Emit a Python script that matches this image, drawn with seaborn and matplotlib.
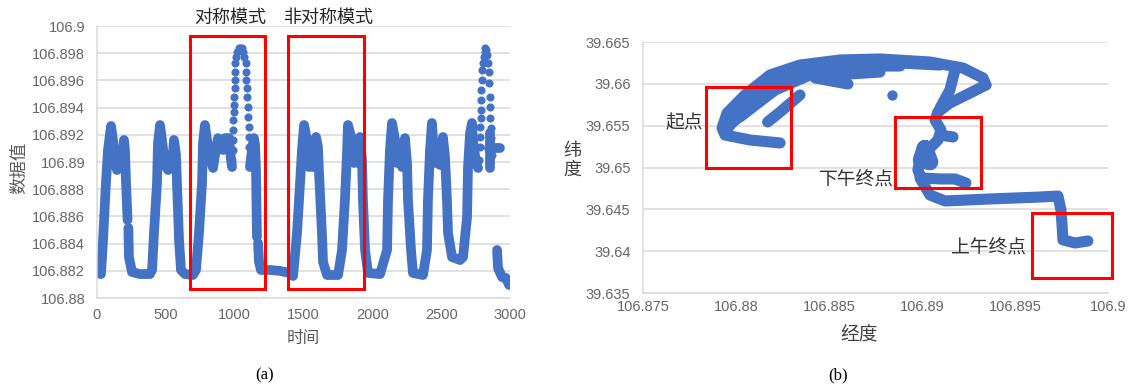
import matplotlib
matplotlib.use("Agg")
import matplotlib.pyplot as plt
import pandas as pd
import seaborn as sns
from matplotlib.patches import Rectangle
from matplotlib.ticker import FuncFormatter, MultipleLocator

# ---------------- (a) time series: continuous pieces of the trace ----------------
piece0_t = [0, 29, 44, 65, 80, 102, 116, 131, 145, 160, 174, 196, 203, 211, 222]
piece0_v = [106.88184, 106.88176, 106.88426, 106.88846, 106.89088, 106.89265, 106.89162,
            106.89015, 106.88941, 106.89015, 106.88956, 106.89162, 106.89088, 106.88846,
            106.88574]

piece1_t = [228, 232, 254, 312, 385, 400, 414, 436, 443, 458, 472, 494, 516, 530, 545, 559,
            574, 581, 596, 610, 639, 697, 719, 741, 763, 770, 784, 799, 821, 843, 857, 879,
            901, 915, 930, 959, 974, 981]
piece1_v = [106.88515, 106.88301, 106.88191, 106.88176, 106.88176, 106.88206, 106.88478,
            106.88846, 106.8914, 106.89272, 106.89162, 106.88978, 106.88941, 106.89015,
            106.88956, 106.89162, 106.89051, 106.88846, 106.88426, 106.88206, 106.88176,
            106.88169, 106.88206, 106.88478, 106.88846, 106.8914, 106.89272, 106.89162,
            106.89029, 106.88956, 106.89051, 106.89176, 106.89125, 106.89088, 106.89176,
            106.89176, 106.89015, 106.88963]

piece2_t = [1111, 1126, 1140, 1148, 1155, 1162]
piece2_v = [106.88963, 106.89088, 106.89176, 106.89125, 106.88941, 106.88449]

piece3_t = [1170, 1177, 1191, 1257, 1329, 1402, 1424, 1453, 1475, 1489, 1504,
            1525, 1540, 1562, 1569, 1591, 1605, 1613, 1634, 1642, 1671, 1751, 1780, 1801, 1816, 1823,
            1852, 1867, 1889, 1896, 1910, 1925, 1932, 1947, 1969, 2056, 2107, 2114, 2128, 2143,
            2165, 2179, 2201, 2216, 2237, 2252, 2259, 2281, 2295, 2368, 2397, 2404, 2419, 2433,
            2441, 2455, 2477, 2492, 2513, 2528, 2542, 2550, 2579, 2637, 2659, 2688, 2695, 2710, 2724,
            2731, 2753, 2768]
piece3_v = [106.88404, 106.88265, 106.88206, 106.88206, 106.88199, 106.88184, 106.88162,
            106.88478, 106.88846, 106.89088, 106.89272,
            106.89162, 106.88963, 106.89015, 106.88963, 106.89184, 106.8911, 106.88919,
            106.88478, 106.88265, 106.88169, 106.88169, 106.88353, 106.88721, 106.89066, 106.89272,
            106.89162, 106.88993, 106.89037, 106.88993, 106.89184, 106.89015, 106.88721,
            106.88353, 106.88184, 106.88176, 106.88353, 106.88721, 106.89088, 106.89287,
            106.89162, 106.88993, 106.89015, 106.88963, 106.89176, 106.88993, 106.88721,
            106.88353, 106.88184, 106.88169, 106.88353, 106.88721, 106.89088, 106.89287,
            106.89162, 106.88993, 106.89015, 106.88978, 106.89184, 106.89037, 106.88721,
            106.88478, 106.88301, 106.88279, 106.88301, 106.88596, 106.88963, 106.89213, 106.89287,
            106.89162, 106.88993, 106.88956]

piece4_t = [2858, 2858]
piece4_v = [106.89213, 106.88956]

piece5_t = [2846, 2927]
piece5_v = [106.89103, 106.89103]

piece6_t = [2906, 2913, 2942, 2971, 2993]
piece6_v = [106.88353, 106.8822, 106.88154, 106.88147, 106.88096]

# sparse samples on the two tall excursions
spike1_t = [983, 985, 987, 989, 991, 993, 995, 997, 999, 1001, 1003, 1006, 1012, 1020, 1028,
            1036, 1044, 1052, 1060, 1068, 1080, 1083, 1086, 1089, 1092, 1095, 1098, 1101, 1104,
            1107, 1110, 1113]
spike1_v = [106.89015, 106.89088, 106.89162, 106.89235, 106.89309, 106.89368, 106.89419,
            106.89478, 106.89544, 106.89603, 106.89662, 106.89728, 106.89772, 106.89809,
            106.89838, 106.89838, 106.89824, 106.89838, 106.89809, 106.89772, 106.89728,
            106.89662, 106.89603, 106.89544, 106.89478, 106.89404, 106.89331, 106.89257,
            106.89184, 106.8911, 106.89037, 106.88978]

spike2_t = [2778, 2780, 2782, 2784, 2786, 2788, 2790, 2792, 2795, 2798, 2802, 2808, 2815,
            2822, 2829, 2836, 2843, 2846, 2849, 2852, 2855, 2858, 2861, 2864, 2867, 2870]
spike2_v = [106.89015, 106.8911, 106.89184, 106.89257, 106.89324, 106.89382, 106.89456,
            106.89529, 106.89603, 106.89676, 106.89728, 106.89772, 106.89809, 106.89838,
            106.89824, 106.89787, 106.89728, 106.89662, 106.89581, 106.89478, 106.89404,
            106.89324, 106.8925, 106.89176, 106.8911, 106.89051]

mode_names = ["对称模式", "非对称模式"]
mode_t_ranges = [(675, 1220), (1387, 1939)]
mode_v_range = (106.88066, 106.89926)

# ---------------- (b) trajectory strokes (longitude, latitude) ----------------
outer_lon = [106.88237, 106.88075, 106.87941, 106.87925, 106.87952, 106.88048, 106.88183,
             106.88344, 106.88559, 106.88774, 106.89043, 106.8922, 106.89328, 106.89344]
outer_lat = [39.65293, 39.65329, 39.65388, 39.65472, 39.65651, 39.65867, 39.66106,
             39.66225, 39.66285, 39.66297, 39.66261, 39.66189, 39.6607, 39.65986]

outer2_lon = [106.87957, 106.88075, 106.88237, 106.88452, 106.88667, 106.88882, 106.89097]
outer2_lat = [39.65472, 39.65807, 39.66070, 39.66237, 39.66261, 39.66249, 39.66225]

middle_lon = [106.87984, 106.88129, 106.8829, 106.88452, 106.88667, 106.88882]
middle_lat = [39.65544, 39.65807, 39.66046, 39.66165, 39.66213, 39.66213]

inner_lon = [106.8817, 106.88237, 106.88344]
inner_lat = [39.65544, 39.65663, 39.65867]

lower_lon = [106.88021, 106.8821, 106.88398, 106.88613, 106.88774]
lower_lat = [39.65604, 39.65926, 39.66106, 39.66118, 39.66141]

spur_lon = [106.88425, 106.88602]
spur_lat = [39.6607, 39.65998]

turn_right_lon = [106.89344, 106.89258, 106.8915, 106.89086]
turn_right_lat = [39.65986, 39.6589, 39.65771, 39.65663]

turn_left_lon = [106.89177, 106.8915, 106.89097]
turn_left_lat = [39.66165, 39.65926, 39.65711]

descent_lon = [106.89086, 106.8907, 106.89102, 106.89086, 106.89032, 106.88989, 106.88978, 106.89]
descent_lat = [39.65663, 39.65568, 39.65448, 39.65329, 39.65209, 39.6509, 39.6497, 39.64851]

branch_lon = [106.89097, 106.89167]
branch_lat = [39.65388, 39.65365]

pm_end_lon = [106.89, 106.89097, 106.89177, 106.89236]
pm_end_lat = [39.64875, 39.64863, 39.64863, 39.64815]

am_route_lon = [106.88989, 106.89043, 106.89124, 106.89366, 106.89634, 106.89731, 106.89747,
                106.89753, 106.89758, 106.89823, 106.89892]
am_route_lat = [39.64875, 39.64671, 39.646, 39.64624, 39.64647, 39.64659, 39.64492,
                39.64313, 39.64134, 39.64098, 39.64122]

cluster_lon = [106.89016, 106.89043, 106.88995, 106.89016]
cluster_lat = [39.65229, 39.65066, 39.6509, 39.65229]

lone_lon = [106.88839]
lone_lat = [39.65867]

place_names = ["起点", "下午终点", "上午终点"]
place_label_lon = [106.8772, 106.88645, 106.89355]
place_label_lat = [39.65532, 39.64851, 39.64038]
place_box_lon = [(106.87839, 106.88296), (106.88855, 106.89317), (106.89591, 106.90022)]
place_box_lat = [(39.64994, 39.65962), (39.64755, 39.65604), (39.63679, 39.64456)]

# ---------------- styling ----------------
sns.set_theme(style="white")
plt.rcParams["font.family"] = ["Liberation Sans", "Noto Sans CJK SC", "DejaVu Sans"]
CJK = ["Noto Sans CJK SC", "DejaVu Sans"]
BLUE = "#4472C4"
RED = "#FF0000"
GRID = "#D9D9D9"
TICK = "#666666"


def trim(v, pos):
    return f"{v:.3f}".rstrip("0").rstrip(".")


def style_axes(ax, pad_x, pad_y):
    ax.yaxis.grid(True, color=GRID, lw=1.1)
    ax.xaxis.grid(False)
    for side in ("top", "right"):
        ax.spines[side].set_visible(False)
    for side in ("left", "bottom"):
        ax.spines[side].set_color(GRID)
        ax.spines[side].set_linewidth(1.1)
    ax.tick_params(axis="both", length=0, labelsize=10.5, colors=TICK)
    ax.tick_params(axis="x", pad=pad_x)
    ax.tick_params(axis="y", pad=pad_y)
    ax.set_xlabel("")
    ax.set_ylabel("")
    ax.set_axisbelow(True)


fig = plt.figure(figsize=(11.31, 3.87), dpi=100)
ax1 = fig.add_axes([0.08576, 0.22997, 0.36516, 0.70284])
ax2 = fig.add_axes([0.56852, 0.24289, 0.41114, 0.64858])

# ---- (a) ----
pieces = [(piece0_t, piece0_v), (piece1_t, piece1_v), (piece2_t, piece2_v),
          (piece3_t, piece3_v), (piece4_t, piece4_v), (piece5_t, piece5_v),
          (piece6_t, piece6_v)]
trace = pd.concat([pd.DataFrame({"t": t, "v": v, "piece": i})
                   for i, (t, v) in enumerate(pieces)], ignore_index=True)
sns.lineplot(data=trace, x="t", y="v", units="piece", estimator=None, sort=False,
             color=BLUE, lw=7.0, solid_capstyle="round", solid_joinstyle="round", ax=ax1)
sns.scatterplot(x=spike1_t + spike2_t, y=spike1_v + spike2_v, s=34, color=BLUE,
                linewidth=0, ax=ax1)

ax1.set_xlim(0, 3000)
ax1.set_ylim(106.88, 106.9)
ax1.xaxis.set_major_locator(MultipleLocator(500))
ax1.yaxis.set_major_locator(MultipleLocator(0.002))
ax1.yaxis.set_major_formatter(FuncFormatter(trim))
style_axes(ax1, pad_x=7, pad_y=8.5)

for name, (t0, t1) in zip(mode_names, mode_t_ranges):
    ax1.add_patch(Rectangle((t0, mode_v_range[0]), t1 - t0, mode_v_range[1] - mode_v_range[0],
                            fill=False, edgecolor=RED, lw=2.2, clip_on=False, zorder=5))
    ax1.text((t0 + t1) / 2 + 20, 106.90059, name, ha="center", va="center", fontsize=13,
             color="#262626", family=CJK, clip_on=False)

# ---- (b) ----
strokes = [(outer_lon, outer_lat), (outer2_lon, outer2_lat), (middle_lon, middle_lat),
           (inner_lon, inner_lat), (lower_lon, lower_lat), (spur_lon, spur_lat),
           (turn_right_lon, turn_right_lat), (turn_left_lon, turn_left_lat),
           (descent_lon, descent_lat), (branch_lon, branch_lat), (pm_end_lon, pm_end_lat),
           (am_route_lon, am_route_lat)]
track = pd.concat([pd.DataFrame({"lon": x, "lat": y, "stroke": i})
                   for i, (x, y) in enumerate(strokes)], ignore_index=True)
sns.lineplot(data=track, x="lon", y="lat", units="stroke", estimator=None, sort=False,
             color=BLUE, lw=8.0, solid_capstyle="round", solid_joinstyle="round", ax=ax2)
sns.lineplot(x=cluster_lon, y=cluster_lat, estimator=None, sort=False, color=BLUE, lw=12,
             solid_capstyle="round", solid_joinstyle="round", ax=ax2)
sns.scatterplot(x=lone_lon, y=lone_lat, s=55, color=BLUE, linewidth=0, ax=ax2)

ax2.set_xlim(106.875, 106.9)
ax2.set_ylim(39.635, 39.665)
ax2.xaxis.set_major_locator(MultipleLocator(0.005))
ax2.yaxis.set_major_locator(MultipleLocator(0.005))
ax2.xaxis.set_major_formatter(FuncFormatter(trim))
ax2.yaxis.set_major_formatter(FuncFormatter(trim))
style_axes(ax2, pad_x=5, pad_y=9)

for name, lx, ly, (x0, x1), (y0, y1) in zip(place_names, place_label_lon, place_label_lat,
                                             place_box_lon, place_box_lat):
    ax2.add_patch(Rectangle((x0, y0), x1 - x0, y1 - y0, fill=False, edgecolor=RED,
                            lw=2.2, clip_on=False, zorder=5))
    ax2.text(lx, ly, name, ha="center", va="center", fontsize=13.5, color="#333333",
             family=CJK, clip_on=False)

# ---- axis titles and panel tags ----
fig.text(19 / 1131, 1 - 168 / 387, "数据值", rotation=90, ha="center", va="center",
         fontsize=12.5, color="#595959", family=CJK)
fig.text(303 / 1131, 1 - 338 / 387, "时间", ha="center", va="center",
         fontsize=12, color="#595959", family=CJK)
fig.text(572 / 1131, 1 - 160 / 387, "纬\n度", ha="center", va="center", linespacing=1.05,
         fontsize=13, color="#404040", family=CJK)
fig.text(859 / 1131, 1 - 334 / 387, "经度", ha="center", va="center",
         fontsize=13.5, color="#404040", family=CJK)
fig.text(265 / 1131, 1 - 375 / 387, "(a)", ha="center", va="center",
         fontsize=12, color="black", family="Liberation Serif")
fig.text(838 / 1131, 1 - 375 / 387, "(b)", ha="center", va="center",
         fontsize=12, color="black", family="Liberation Serif")

fig.savefig("out.png", dpi=100, facecolor="white")
